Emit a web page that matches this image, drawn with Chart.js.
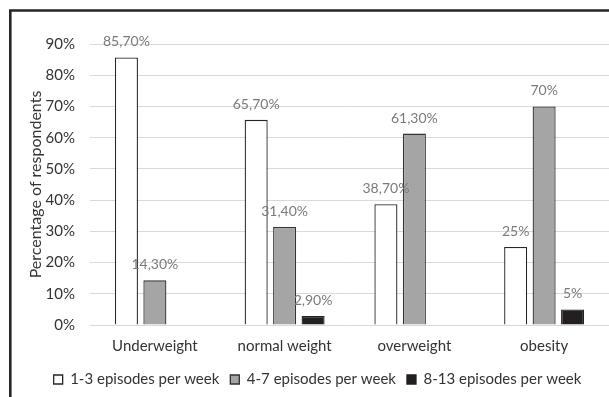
<!DOCTYPE html>
<html>
<head>
<meta charset="utf-8">
<script src="https://cdn.jsdelivr.net/npm/chart.js@4"></script>
<style>
  html, body { margin: 0; padding: 0; background: #fff; }
  #wrap { width: 609px; height: 397px; position: relative; }
</style>
</head>
<body>
<div id="wrap"><canvas id="chart"></canvas></div>
<script>
const categories = ['Underweight', 'normal weight', 'overweight', 'obesity'];
const seriesNames = ['1-3 episodes per week', '4-7 episodes per week', '8-13 episodes per week'];
const lowFreq = [85.7, 65.7, 38.7, 25];
const midFreq = [14.3, 31.4, 61.3, 70];
const highFreq = [null, 2.9, null, 5];
const yTicks = [0, 10, 20, 30, 40, 50, 60, 70, 80, 90];

const FONT = 'Lato, "Open Sans", sans-serif';
const TEXT = '#333333';

function fmtPct(v) {
  return Number.isInteger(v) ? v + '%' : v.toFixed(2).replace('.', ',') + '%';
}

// value labels above each bar
const barLabels = {
  id: 'barLabels',
  afterDatasetsDraw(chart) {
    const ctx = chart.ctx;
    ctx.save();
    ctx.font = '14px ' + FONT;
    ctx.fillStyle = '#7a7a7a';
    ctx.textAlign = 'center';
    ctx.textBaseline = 'alphabetic';
    chart.data.datasets.forEach((ds, i) => {
      chart.getDatasetMeta(i).data.forEach((bar, j) => {
        const v = ds.data[j];
        if (v == null) return;
        ctx.fillText(fmtPct(v), bar.x, bar.y - 11);
      });
    });
    ctx.restore();
  }
};

// dark frame along the top and left edge
const frame = {
  id: 'frame',
  afterDraw(chart) {
    const ctx = chart.ctx;
    ctx.save();
    ctx.strokeStyle = '#262626';
    ctx.lineWidth = 2.6;
    ctx.beginPath();
    ctx.moveTo(10.3, chart.height);
    ctx.lineTo(10.3, 10.5);
    ctx.lineTo(chart.width, 10.5);
    ctx.stroke();
    ctx.restore();
  }
};

const ctx = document.getElementById('chart').getContext('2d');
new Chart(ctx, {
  type: 'bar',
  data: {
    labels: categories,
    datasets: [
      { label: seriesNames[0], data: lowFreq, backgroundColor: '#ffffff', borderColor: '#262626', borderWidth: 1.3 },
      { label: seriesNames[1], data: midFreq, backgroundColor: '#a5a5a5', borderColor: '#333333', borderWidth: 1.3 },
      { label: seriesNames[2], data: highFreq, backgroundColor: '#231f20', borderColor: '#231f20', borderWidth: 1.3 }
    ]
  },
  options: {
    responsive: true,
    maintainAspectRatio: false,
    animation: false,
    categoryPercentage: 0.658,
    barPercentage: 0.81,
    layout: { padding: { left: 26, top: 44, right: 0, bottom: 0 } },
    plugins: {
      tooltip: { enabled: false },
      legend: {
        position: 'bottom',
        labels: {
          boxWidth: 9,
          boxHeight: 9,
          padding: 11,
          color: TEXT,
          font: { family: FONT, size: 15 }
        }
      }
    },
    scales: {
      x: {
        grid: { display: false, drawTicks: false },
        border: { display: false },
        ticks: { color: TEXT, padding: 12, font: { family: FONT, size: 15 } },
        afterFit(scale) { scale.height = 36; }
      },
      y: {
        min: 0,
        max: 90,
        afterBuildTicks(scale) { scale.ticks = yTicks.map(v => ({ value: v })); },
        grid: { color: '#d9d9d9', lineWidth: 1, drawTicks: false },
        border: { display: false },
        ticks: {
          color: TEXT,
          padding: 15,
          font: { family: FONT, size: 15 },
          callback: v => v + '%'
        },
        title: {
          display: true,
          text: 'Percentage of respondents',
          color: TEXT,
          padding: { top: 0, bottom: 0 },
          font: { family: FONT, size: 16 }
        },
        afterFit(scale) { scale.width = 64; }
      }
    }
  },
  plugins: [barLabels, frame]
});
</script>
</body>
</html>
